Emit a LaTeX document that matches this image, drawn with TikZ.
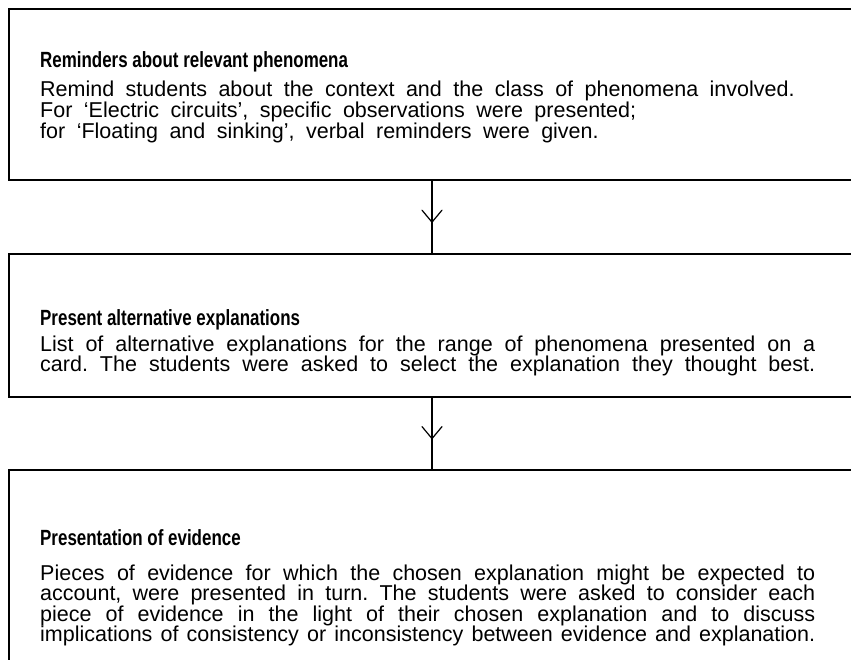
\documentclass[tikz,border=0pt]{standalone}
\usepackage{fontspec}
\setmainfont{Liberation Sans}
\newfontfamily\titlefont[FakeStretch=0.77]{Liberation Sans}
\usetikzlibrary{decorations.markings}
\frenchspacing
\tikzset{
  boxshape/.style={draw=black, line width=1.3pt, rectangle, inner sep=0pt, outer sep=0pt, minimum width=900pt, anchor=north west},
  titletext/.style={anchor=base west, inner sep=0pt, font=\titlefont\bfseries\fontsize{22}{22}\selectfont},
  bodytext/.style={anchor=base west, inner sep=0pt, text width=775pt, font=\fontsize{21.5}{20.6}\selectfont\frenchspacing},
  flowline/.style={draw=black, line width=1.3pt, decoration={markings, mark=at position 0.57 with {\draw[line width=1.2pt, line cap=round, line join=miter] (-12pt,-10pt) -- (0pt,0pt) -- (-12pt,10pt);}}, postaction={decorate}}
}
\begin{document}
\begin{tikzpicture}[x=1pt,y=1pt]
\clip (0,0) rectangle (851,-660);
\useasboundingbox (0,0) rectangle (851,-660);
\node[boxshape, minimum height=171pt] (b1) at (9,-9) {};
\node[boxshape, minimum height=143pt] (b2) at (9,-254) {};
\node[boxshape, minimum height=260pt] (b3) at (9,-470) {};
\coordinate (ax) at (432,0);
\node[titletext] (t1) at (40,-68) {Reminders about relevant phenomena};
\node[bodytext, align=left] (p1) at (40,-97) {\spaceskip=11.5pt plus 2pt minus 1pt\relax Remind students about the context and the class of phenomena involved.\\For ‘Electric circuits’, specific observations were presented;\\for ‘Floating and sinking’, verbal reminders were given.};
\node[titletext] (t2) at (40,-325) {Present alternative explanations};
\node[bodytext, align=justify] (p2) at (40,-351) {List of alternative explanations for the range of phenomena presented on a\linebreak card. The students were asked to select the explanation they thought best.\linebreak};
\node[titletext] (t3) at (40,-545) {Presentation of evidence};
\node[bodytext, align=justify] (p3) at (40,-580) {Pieces of evidence for which the chosen explanation might be expected to\linebreak account, were presented in turn. The students were asked to consider each\linebreak piece of evidence in the light of their chosen explanation and to discuss\linebreak implications of consistency or inconsistency between evidence and explanation.\linebreak};
\draw[flowline] (b1.south -| ax) -- (b2.north -| ax);
\draw[flowline] (b2.south -| ax) -- (b3.north -| ax);
\end{tikzpicture}
\end{document}
